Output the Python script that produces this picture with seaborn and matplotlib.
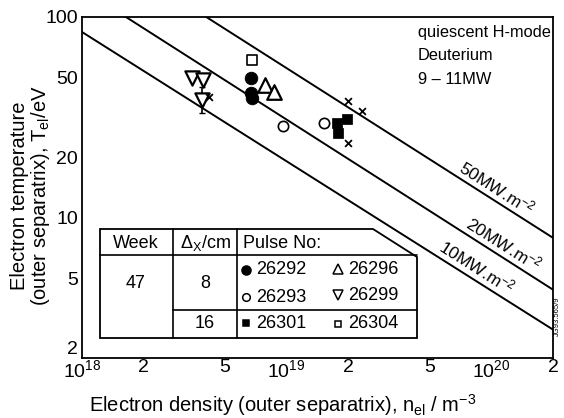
import numpy as np
import pandas as pd
import matplotlib
matplotlib.use("Agg")
import matplotlib.pyplot as plt
import seaborn as sns

# ---------------- data ----------------
flux_levels = [10, 20, 50]                       # MW m^-2
flux_labels = ["10MW.m$^{-2}$", "20MW.m$^{-2}$", "50MW.m$^{-2}$"]
line_n_ends = [1e18, 2e20]
line_T_left = [84.2, 138.0, 248.0]               # T at n = 1e18
line_T_right = [2.77, 4.38, 7.94]                # T at n = 2e20
label_n = [8.0e19, 1.08e20, 1.0e20]

n_26292 = [6.7e18, 6.7e18, 6.75e18]
T_26292 = [49.5, 41.8, 39.3]
n_26293 = [9.6e18, 1.52e19]
T_26293 = [28.5, 29.8]
n_26296 = [7.8e18, 8.7e18]
T_26296 = [45.9, 42.5]
n_26299 = [3.45e18, 3.92e18, 3.86e18]
T_26299 = [49.6, 48.6, 38.7]
err_26299_lo = [0, 0, 5.4]
err_26299_hi = [0, 0, 6.2]
n_26301 = [1.76e19, 1.98e19, 1.78e19]
T_26301 = [29.6, 31.0, 26.4]
n_26304 = [6.8e18]
T_26304 = [61.0]
n_cross = [4.15e18, 2.0e19, 2.32e19, 2.0e19]
T_cross = [40.0, 38.2, 34.1, 23.5]

x_ticks = [1e18, 2e18, 5e18, 1e19, 2e19, 5e19, 1e20, 2e20]
x_ticklabels = ["10$^{18}$", "2", "5", "10$^{19}$", "2", "5", "10$^{20}$", "2"]
y_ticks = [2, 5, 10, 20, 50, 100]
y_ticklabels = ["2", "5", "10", "20", "50", "100"]

# ---------------- style ----------------
sns.set_theme(style="white")
plt.rcParams["font.family"] = ["Liberation Sans", "DejaVu Sans"]
plt.rcParams["mathtext.fontset"] = "custom"
plt.rcParams["mathtext.rm"] = "Liberation Sans"
plt.rcParams["mathtext.it"] = "Liberation Sans:italic"

W, H = 564, 418
fig = plt.figure(figsize=(W / 100, H / 100), dpi=100)
L, R, T_, B = 82, 553, 17, 358
ax = fig.add_axes([L / W, 1 - B / H, (R - L) / W, (B - T_) / H])
ax.set_xscale("log")
ax.set_yscale("log")
ax.set_xlim(1e18, 2e20)
ax.set_ylim(2, 100)

def px(x, y):
    return ((x - L) / (R - L), (B - y) / (B - T_))

# flux lines
for q, lab, tl, tr, ln in zip(flux_levels, flux_labels, line_T_left, line_T_right, label_n):
    df = pd.DataFrame({"n": line_n_ends, "T": [tl, tr]})
    sns.lineplot(data=df, x="n", y="T", ax=ax, color="black", lw=1.4, zorder=2)
    slope = np.log(tr / tl) / np.log(line_n_ends[1] / line_n_ends[0])
    tlab = tl * (ln / line_n_ends[0]) ** slope
    ax.text(ln, tlab * 1.03, lab, rotation=-32.5, rotation_mode="anchor",
            ha="center", va="bottom", fontsize=12.5, color="black", zorder=3)

ms = dict(color="black", edgecolor="black", zorder=5, legend=False)
sns.scatterplot(x=n_26292, y=T_26292, ax=ax, marker="o", s=80, **ms)
sns.scatterplot(x=n_26293, y=T_26293, ax=ax, marker="o", s=55, facecolor="white",
                edgecolor="black", linewidth=1.2, zorder=5, legend=False)
sns.scatterplot(x=n_26296, y=T_26296, ax=ax, marker="^", s=110, facecolor="white",
                edgecolor="black", linewidth=1.6, zorder=5, legend=False)
sns.scatterplot(x=n_26299, y=T_26299, ax=ax, marker="v", s=105, facecolor="white",
                edgecolor="black", linewidth=1.6, zorder=5, legend=False)
ax.errorbar(n_26299, T_26299, yerr=[err_26299_lo, err_26299_hi], fmt="none",
            ecolor="black", elinewidth=1.2, capsize=2.5, zorder=4)
sns.scatterplot(x=n_26301, y=T_26301, ax=ax, marker="s", s=42, **ms)
sns.scatterplot(x=n_26304, y=T_26304, ax=ax, marker="s", s=45, facecolor="white",
                edgecolor="black", linewidth=1.2, zorder=5, legend=False)
sns.scatterplot(x=n_cross, y=T_cross, ax=ax, marker="x", s=24, color="black",
                linewidth=1.3, zorder=5, legend=False)

# ticks
ax.set_xticks(x_ticks)
ax.set_xticklabels(x_ticklabels)
ax.set_yticks(y_ticks)
ax.set_yticklabels(y_ticklabels)
ax.minorticks_off()
ax.tick_params(axis="both", which="major", direction="in", length=9, width=1.1,
               labelsize=14, colors="black")
ax.tick_params(axis="x", pad=1)
ax.tick_params(axis="y", pad=3)
ax.get_yticklabels()[0].set_verticalalignment("bottom")
for sp in ax.spines.values():
    sp.set_color("black")
    sp.set_linewidth(1.3)

ax.set_xlabel("Electron density (outer separatrix), n$_{\\rm el}$ / m$^{-3}$",
              fontsize=14.5, color="black")
ax.xaxis.set_label_coords(*px(283, 405))
ax.xaxis.label.set_va("center")
ax.set_ylabel("Electron temperature\n(outer separatrix), T$_{\\rm el}$/eV",
              fontsize=14.5, color="black", linespacing=1.05)
ax.yaxis.set_label_coords(*px(31, 196))
ax.yaxis.label.set_va("center")

# annotation
for i, s in enumerate(["quiescent H-mode", "Deuterium", "9 \u2013 11MW"]):
    ax.text(*px(418, 32 + 24 * i), s, transform=ax.transAxes, fontsize=11.8,
            ha="left", va="center", color="black")

# table legend
poly = [px(100, 229), px(373, 229), px(417, 257), px(417, 338), px(100, 338)]
ax.add_patch(plt.Polygon(poly, closed=True, transform=ax.transAxes,
                         facecolor="white", edgecolor="black", lw=1.3, zorder=6))
def hline(x0, x1, y):
    a, b = px(x0, y), px(x1, y)
    ax.plot([a[0], b[0]], [a[1], b[1]], transform=ax.transAxes, color="black", lw=1.2, zorder=7)
def vline(x, y0, y1):
    a, b = px(x, y0), px(x, y1)
    ax.plot([a[0], b[0]], [a[1], b[1]], transform=ax.transAxes, color="black", lw=1.2, zorder=7)
hline(100, 417, 255)
hline(173, 417, 310)
vline(173, 229, 338)
vline(237, 229, 338)

tk = dict(transform=ax.transAxes, fontsize=13, color="black", zorder=8, va="center")
ax.text(*px(136, 243), "Week", ha="center", **tk)
ax.text(*px(205, 243), "\u0394$_{\\rm X}$/cm", ha="center", **tk)
ax.text(*px(243, 243), "Pulse No:", ha="left", **tk)
ax.text(*px(136, 283), "47", ha="center", **tk)
ax.text(*px(205, 283), "8", ha="center", **tk)
ax.text(*px(205, 323), "16", ha="center", **tk)

entries = [
    (246, 270, "o", 6.5, "black", "26292"),
    (338, 269, "^", 7.5, "white", "26296"),
    (246, 297, "o", 5.5, "white", "26293"),
    (338, 295, "v", 7.5, "white", "26299"),
    (246, 323, "s", 5, "black", "26301"),
    (338, 324, "s", 5, "white", "26304"),
]
for x, y, m, sz, fc, lab in entries:
    ax.plot(*px(x, y), marker=m, ms=sz, mfc=fc, mec="black", mew=1.1,
            transform=ax.transAxes, zorder=8, ls="none")
    ax.text(*px(x + 10, y), lab, ha="left", **tk)

fig.text(557 / W, 1 - 316 / H, "JG93.565/9", rotation=90, fontsize=5.5,
         ha="center", va="center", color="black")

fig.savefig("out.png", dpi=100, facecolor="white")
